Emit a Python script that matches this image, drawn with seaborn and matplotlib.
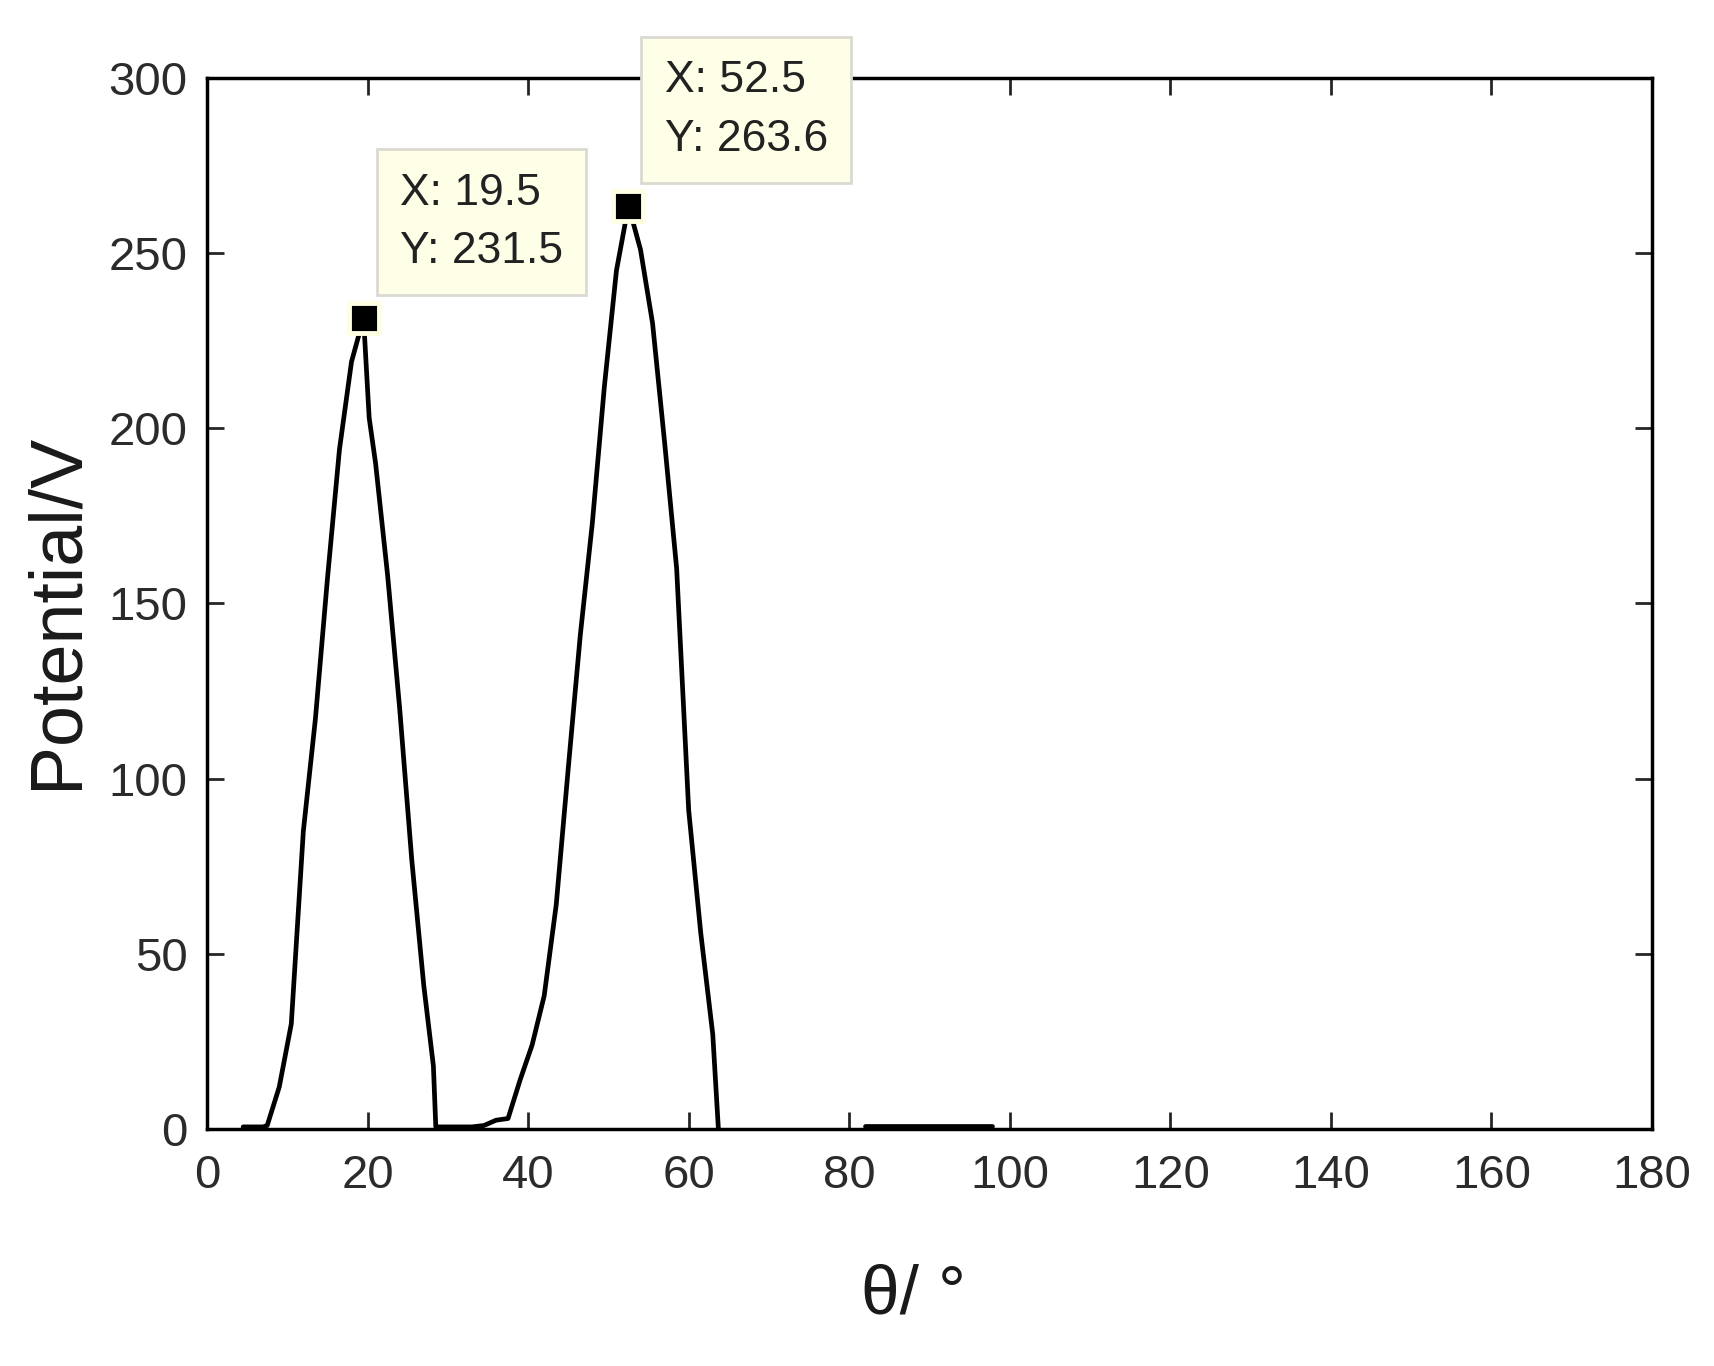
import numpy as np
import pandas as pd
import matplotlib
matplotlib.use("Agg")
import matplotlib.pyplot as plt
import seaborn as sns

# potential curve (theta in degrees, potential in V)
theta_a = [4.5, 6, 7, 7.5, 9, 10.5, 12, 13.5, 15, 16.5, 18, 19.5, 20.2, 21, 22.5, 24, 25.5, 27,
           28.2, 28.5, 30, 31.5, 33, 34.5, 36, 37.5, 39, 40.5, 42, 43.5, 45, 46.5, 48, 49.5,
           51, 52.5, 54, 55.5, 57, 58.5, 60, 61.5, 63, 63.7]
volt_a = [0.6, 0.6, 0.6, 1, 12, 30, 85, 117, 157, 194, 219, 231.5, 203, 190, 158, 120, 77, 41,
          18, 0.6, 0.6, 0.6, 0.6, 1, 2.5, 3, 14, 24, 38, 64, 103, 141, 173, 212,
          245, 263.6, 251, 230, 196, 160, 91, 56, 27, 0]
# small flat stretch near 90 degrees
theta_b = [82, 86, 90, 94, 97.8]
volt_b = [0.8, 0.8, 0.8, 0.8, 0.8]

# data tips
tip_x = [19.5, 52.5]
tip_y = [231.5, 263.6]

xticks = list(range(0, 181, 20))
yticks = list(range(0, 301, 50))

df = pd.concat([
    pd.DataFrame({"theta": theta_a, "volt": volt_a, "seg": 0}),
    pd.DataFrame({"theta": theta_b, "volt": volt_b, "seg": 1}),
], ignore_index=True)

sns.set_theme(style="ticks")
plt.rcParams["font.family"] = ["Liberation Sans", "DejaVu Sans"]

fig = plt.figure(figsize=(17.15, 13.66), dpi=100)
ax = fig.add_axes([0.1207, 0.1735, 0.8426, 0.7694])

sns.lineplot(data=df, x="theta", y="volt", units="seg", estimator=None,
             color="black", linewidth=3.4, ax=ax)

ax.set_xlim(0, 180)
ax.set_ylim(0, 300)
ax.set_xticks(xticks)
ax.set_yticks(yticks)

ax.set_xticklabels([str(t) for t in xticks], fontsize=34, color="#2b2b2b")
ax.set_yticklabels([str(t) for t in yticks], fontsize=34, color="#2b2b2b")
ax.tick_params(axis="both", direction="in", length=12, width=2, top=True, right=True)
ax.tick_params(axis="x", pad=18)
ax.tick_params(axis="y", pad=14)
for sp in ax.spines.values():
    sp.set_visible(True)
    sp.set_linewidth(2.5)
    sp.set_color("black")

ax.set_xlabel("θ/ °", fontsize=50, color="#1a1a1a")
ax.set_ylabel("Potential/V", fontsize=53, color="#1a1a1a")
ax.xaxis.set_label_coords(0.4886, -0.128)
ax.yaxis.set_label_coords(-0.08, 0.493)

# data tip markers and boxes
ax.plot(tip_x, tip_y, linestyle="none", marker="s", markersize=21,
        markerfacecolor="black", markeredgecolor="#FFFFE3", markeredgewidth=3.5,
        zorder=5, clip_on=False)
for xv, yv in zip(tip_x, tip_y):
    ax.annotate(f"X: {xv:g}\nY: {yv:g}", xy=(xv, yv), xytext=(26, 33),
                textcoords="offset points", ha="left", va="bottom",
                fontsize=32, color="#222222", linespacing=1.55,
                bbox=dict(boxstyle="square,pad=0.52", facecolor="#FFFFE8",
                          edgecolor="#DADAD2", linewidth=2),
                annotation_clip=False, zorder=6)

fig.savefig("out.png", dpi=100, facecolor="white")
